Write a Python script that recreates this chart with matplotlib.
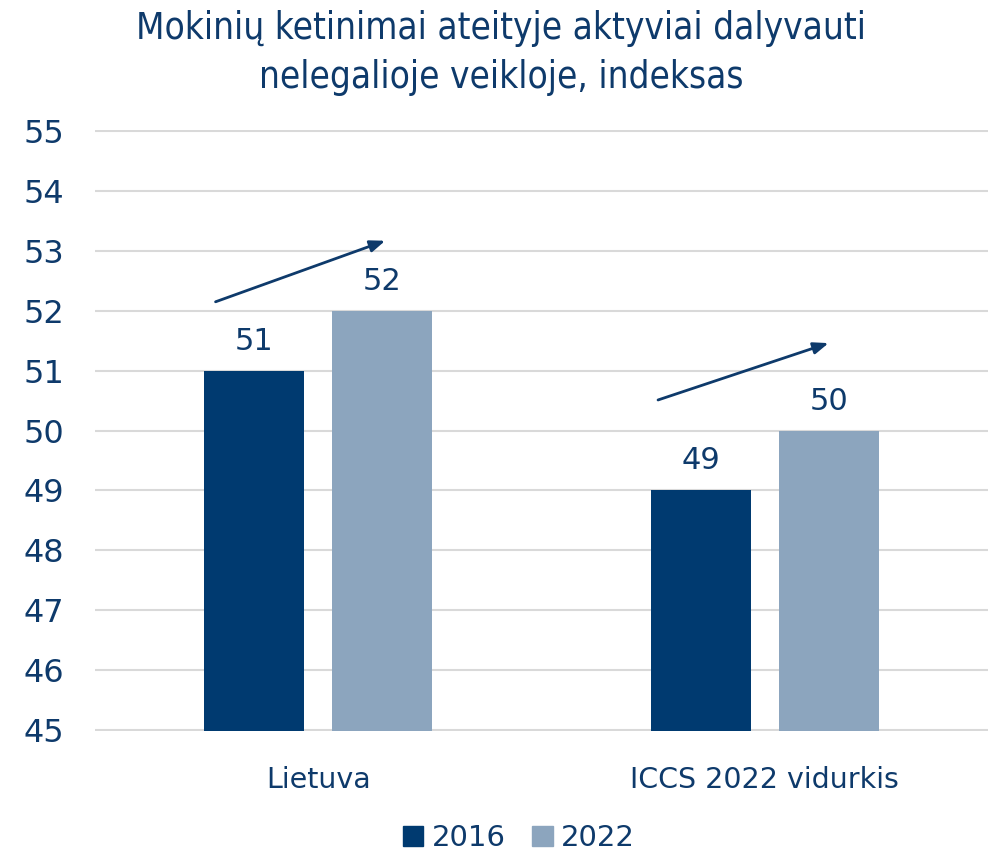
import matplotlib
matplotlib.use("Agg")
import matplotlib.pyplot as plt
import matplotlib.transforms as mtrans
import numpy as np
from matplotlib.patches import Patch

categories = ["Lietuva", "ICCS 2022 vidurkis"]
series_names = ["2016", "2022"]
values_2016 = [51, 49]
values_2022 = [52, 50]
yticks = [45, 46, 47, 48, 49, 50, 51, 52, 53, 54, 55]
title = "Mokinių ketinimai ateityje aktyviai dalyvauti\nnelegalioje veikloje, indeksas"

c_dark = "#003A70"
c_light = "#8CA5BE"
c_text = "#0E3A6B"
grid_c = "#D9D9D9"

fig = plt.figure(figsize=(9.95, 8.52), dpi=100)
ax = fig.add_axes([95/995, 1-731/852, (988-95)/995, (731-130)/852])

x = np.arange(len(categories))
w = 0.224
off = 0.143
ax.bar(x - off, values_2016, w, color=c_dark, zorder=3)
ax.bar(x + off, values_2022, w, color=c_light, zorder=3)

for xi, v in zip(x - off, values_2016):
    ax.text(xi, v + 0.25, f"{v}", ha="center", va="bottom", fontsize=22, color=c_text)
for xi, v in zip(x + off, values_2022):
    ax.text(xi, v + 0.25, f"{v}", ha="center", va="bottom", fontsize=22, color=c_text)

# trend arrows
arrows = [((-0.230, 52.15), (0.150, 53.17)), ((0.761, 50.51), (1.143, 51.46))]
for (s, e) in arrows:
    ax.annotate("", xy=e, xytext=s,
                arrowprops=dict(arrowstyle="-|>,head_length=0.9,head_width=0.35",
                                color=c_text, lw=2, shrinkA=0, shrinkB=0))

ax.set_ylim(44.98, 55.02)
ax.set_xlim(-0.5, 1.5)
ax.set_yticks(yticks)
ax.set_yticklabels([str(t) for t in yticks])
ax.set_xticks(x)
ax.set_xticklabels(categories)
ax.yaxis.grid(True, color=grid_c, lw=1.5, zorder=0)
ax.set_axisbelow(True)
for s in ax.spines.values():
    s.set_visible(False)
ax.tick_params(axis="y", length=0, labelsize=23, labelcolor=c_text, pad=0)
ax.tick_params(axis="x", length=0, labelsize=20.5, labelcolor=c_text, pad=25)
for lbl in ax.get_yticklabels():
    lbl.set_horizontalalignment("left")
    lbl.set_transform(lbl.get_transform() + mtrans.ScaledTranslation(-71/100, 0, fig.dpi_scale_trans))

fig.text(501/995, 1-53/852, title, ha="center", va="center", fontsize=26.5,
         color=c_text, family="DejaVu Sans", stretch="condensed", linespacing=1.4)

handles = [Patch(color=c_dark, label=series_names[0]), Patch(color=c_light, label=series_names[1])]
leg = fig.legend(handles=handles, loc="center", bbox_to_anchor=(519/995, 1-838/852), ncol=2,
                 frameon=False, fontsize=21, handlelength=0.7, handleheight=0.7,
                 handletextpad=0.3, columnspacing=0.9)
for t in leg.get_texts():
    t.set_color(c_text)

fig.savefig("out.png", dpi=100)
